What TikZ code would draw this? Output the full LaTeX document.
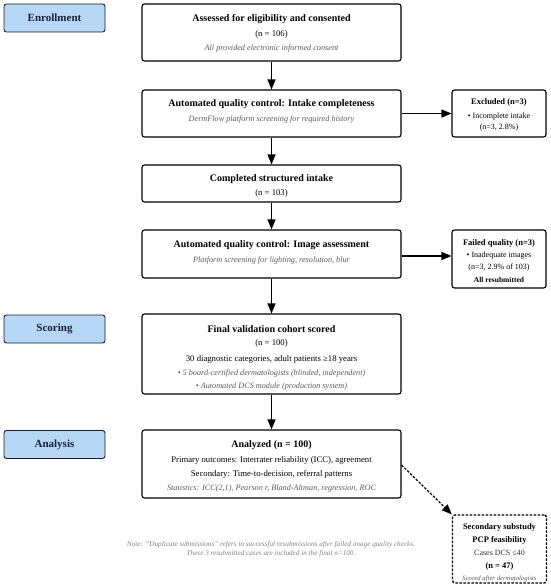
\documentclass[tikz,border=0pt]{standalone}
\usepackage{fontspec}
\setmainfont{Liberation Serif}
\usetikzlibrary{arrows.meta,positioning}
\definecolor{lblue}{RGB}{182,216,246}
\definecolor{navy}{RGB}{22,32,58}
\definecolor{ngray}{RGB}{90,90,90}
\definecolor{notegray}{RGB}{130,130,130}
\tikzset{
  phase/.style={draw=navy!90!black, fill=lblue, text=navy, rounded corners=2.5pt, line width=0.9pt, minimum width=101pt, minimum height=28pt, font=\fontsize{11}{13}\selectfont\bfseries, inner sep=0pt},
  mainbox/.style={draw=black, rounded corners=2.5pt, line width=1.1pt, minimum width=259pt, inner sep=0pt, align=center},
  sidebox/.style={draw=black, rounded corners=2.5pt, line width=1.1pt, minimum width=94pt, inner sep=0pt, align=center},
  arr/.style={line width=1.2pt, -{Triangle[length=10pt,width=8pt]}},
  ttl/.style={font=\fontsize{10}{12}\selectfont\bfseries},
  txt/.style={font=\fontsize{8.7}{10}\selectfont},
  itx/.style={font=\fontsize{8.2}{10}\selectfont\itshape, text=ngray},
  sttl/.style={font=\fontsize{8.5}{10}\selectfont\bfseries},
  stxt/.style={font=\fontsize{8}{10}\selectfont},
}
\begin{document}
\begin{tikzpicture}[x=1pt,y=-1pt]
\useasboundingbox (0,0) rectangle (550,588);
% phase labels
\node[phase] (enr) at (54.5,18) {Enrollment};
\node[phase] (sco) at (54.5,329) {Scoring};
\node[phase] (ana) at (54.5,444.5) {Analysis};
% main boxes
\node[mainbox, minimum height=57pt] (b1) at (271.5,32.5) {};
\node[ttl] (b1a) at (271.5,19) {Assessed for eligibility and consented};
\node[txt] (b1b) at (271.5,34) {(n = 106)};
\node[itx] (b1c) at (271.5,48) {All provided electronic informed consent};

\node[mainbox, minimum height=47pt] (b2) at (271.5,113.5) {};
\node[ttl] (b2a) at (271.5,104) {Automated quality control: Intake completeness};
\node[itx] (b2b) at (271.5,119) {DermFlow platform screening for required history};

\node[mainbox, minimum height=37pt] (b3) at (271.5,183.5) {};
\node[ttl] (b3a) at (271.5,179.5) {Completed structured intake};
\node[txt] (b3b) at (271.5,193) {(n = 103)};

\node[mainbox, minimum height=48pt] (b4) at (271.5,254) {};
\node[ttl] (b4a) at (271.5,245) {Automated quality control: Image assessment};
\node[itx] (b4b) at (271.5,260) {Platform screening for lighting, resolution, blur};

\node[mainbox, minimum height=80pt] (b5) at (271.5,354) {};
\node[ttl] (b5a) at (271.5,329) {Final validation cohort scored};
\node[txt] (b5b) at (271.5,343) {(n = 100)};
\node[txt] (b5c) at (271.5,359) {30 diagnostic categories, adult patients ≥18 years};
\node[itx] (b5d) at (271.5,373.5) {• 5 board-certified dermatologists (blinded, independent)};
\node[itx] (b5e) at (271.5,387) {• Automated DCS module (production system)};

\node[mainbox, minimum height=68pt] (b6) at (271.5,464) {};
\node[ttl] (b6a) at (271.5,445) {Analyzed (n = 100)};
\node[txt] (b6b) at (271.5,460) {Primary outcomes: Interrater reliability (ICC), agreement};
\node[txt] (b6c) at (271.5,474) {Secondary: Time-to-decision, referral patterns};
\node[itx] (b6d) at (271.5,489) {Statistics: ICC(2,1), Pearson r, Bland-Altman, regression, ROC};

% side boxes
\node[sidebox, minimum height=47pt] (ex) at (499,113.5) {};
\node[sttl] (exa) at (499,102) {Excluded (n=3)};
\node[stxt] (exb) at (499,116.5) {• Incomplete intake};
\node[stxt] (exc) at (499,127.5) {(n=3, 2.8\%)};

\node[sidebox, minimum height=58pt] (fq) at (499,259) {};
\node[sttl] (fqa) at (499,243) {Failed quality (n=3)};
\node[stxt] (fqb) at (499,256) {• Inadequate images};
\node[stxt] (fqc) at (499,268) {(n=3, 2.9\% of 103)};
\node[font=\fontsize{7.5}{9}\selectfont\bfseries] (fqd) at (499,280) {All resubmitted};

\node[sidebox, dashed, dash pattern=on 2.5pt off 1.5pt, line width=1.4pt, minimum height=68pt, minimum width=94pt] (pcp) at (499.5,549) {};
\node[sttl] (pa) at (499.5,527) {Secondary substudy};
\node[sttl] (pb) at (499.5,540) {PCP feasibility};
\node[stxt, text=black!80] (pc) at (499.5,553) {Cases DCS ≤40};
\node[sttl] (pd) at (499.5,566) {(n = 47)};
\node[font=\fontsize{6.7}{8}\selectfont\itshape, text=ngray] (pe) at (499.5,578.5) {Scored after dermatologists};

% note
\node[font=\fontsize{7.2}{9}\selectfont\itshape, text=notegray, align=center] (note) at (271,549) {Note: "Duplicate submissions" refers to successful resubmissions after failed image quality checks.\\[0.5pt] These 3 resubmitted cases are included in the final n=100.};

% arrows
\draw[arr] (b1) -- (b2);
\draw[arr] (b2) -- (b3);
\draw[arr] (b3) -- (b4);
\draw[arr] (b4) -- (b5);
\draw[arr] (b5) -- (b6);
\draw[arr] (b2.east) -- (ex.west);
\draw[arr] (b4.east |- 0,256) coordinate (f0) -- (f0 -| fq.west);
\draw[arr, dash pattern=on 2.5pt off 1.5pt] (b6.east |- 0,465) coordinate (d0) -- (pcp.north west);
\end{tikzpicture}
\end{document}
